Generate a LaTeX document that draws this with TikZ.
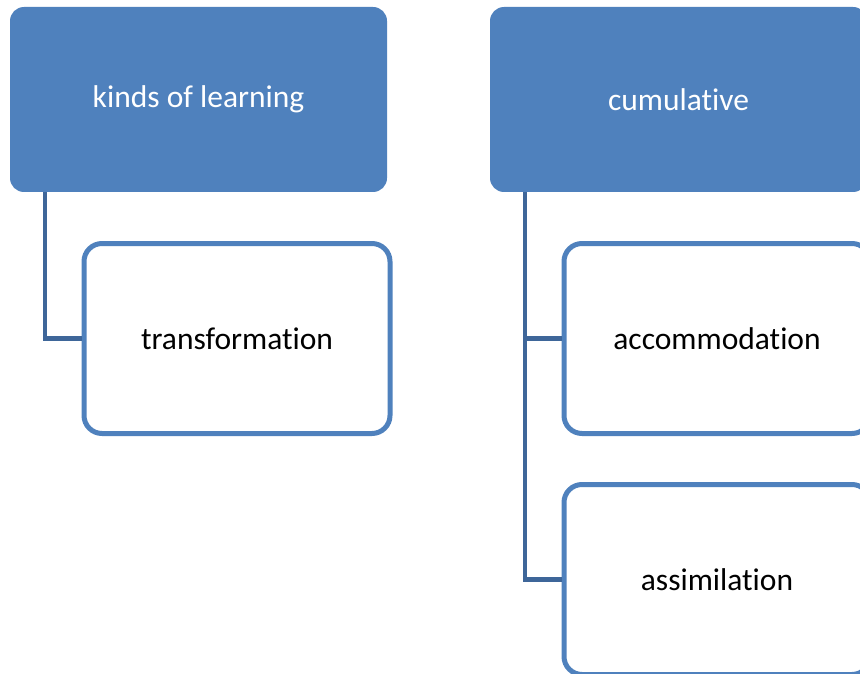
\documentclass[tikz,border=0pt]{standalone}
\usepackage{fontspec}
\setmainfont{Carlito}[Ligatures=NoCommon]
\definecolor{headblue}{HTML}{4F81BD}
\definecolor{linkblue}{HTML}{3E6699}
\tikzset{
  head/.style={fill=headblue, text=white, rounded corners=14pt,
    minimum width=377pt, minimum height=185pt, inner sep=0pt,
    font=\fontsize{31.5}{36}\selectfont},
  leaf/.style={draw=headblue, line width=5pt, fill=white, rounded corners=18pt,
    minimum width=306pt, minimum height=190pt, inner sep=0pt,
    font=\fontsize{31.5}{36}\selectfont},
  link/.style={draw=linkblue, line width=4.5pt}
}
\begin{document}
\begin{tikzpicture}[x=1pt,y=-1pt]
  \useasboundingbox (0,0) rectangle (860,674);
  \clip (0,0) rectangle (860,674);
  \draw
    (198.5,99.5) node[head] (kinds){kinds of learning}
    (678.5,99.5) node[head] (cumul){cumulative}
    (237,338.5) node[leaf] (transf){transformation}
    (717,338.5) node[leaf] (accom){accommodation}
    (717,579.5) node[leaf] (assim){assimilation};
  \begin{scope}[link]
    \draw ([xshift=35pt]kinds.south west) |- (transf.west);
    \draw ([xshift=35pt]cumul.south west) |- (accom.west);
    \draw ([xshift=35pt]cumul.south west) |- (assim.west);
  \end{scope}
\end{tikzpicture}
\end{document}
